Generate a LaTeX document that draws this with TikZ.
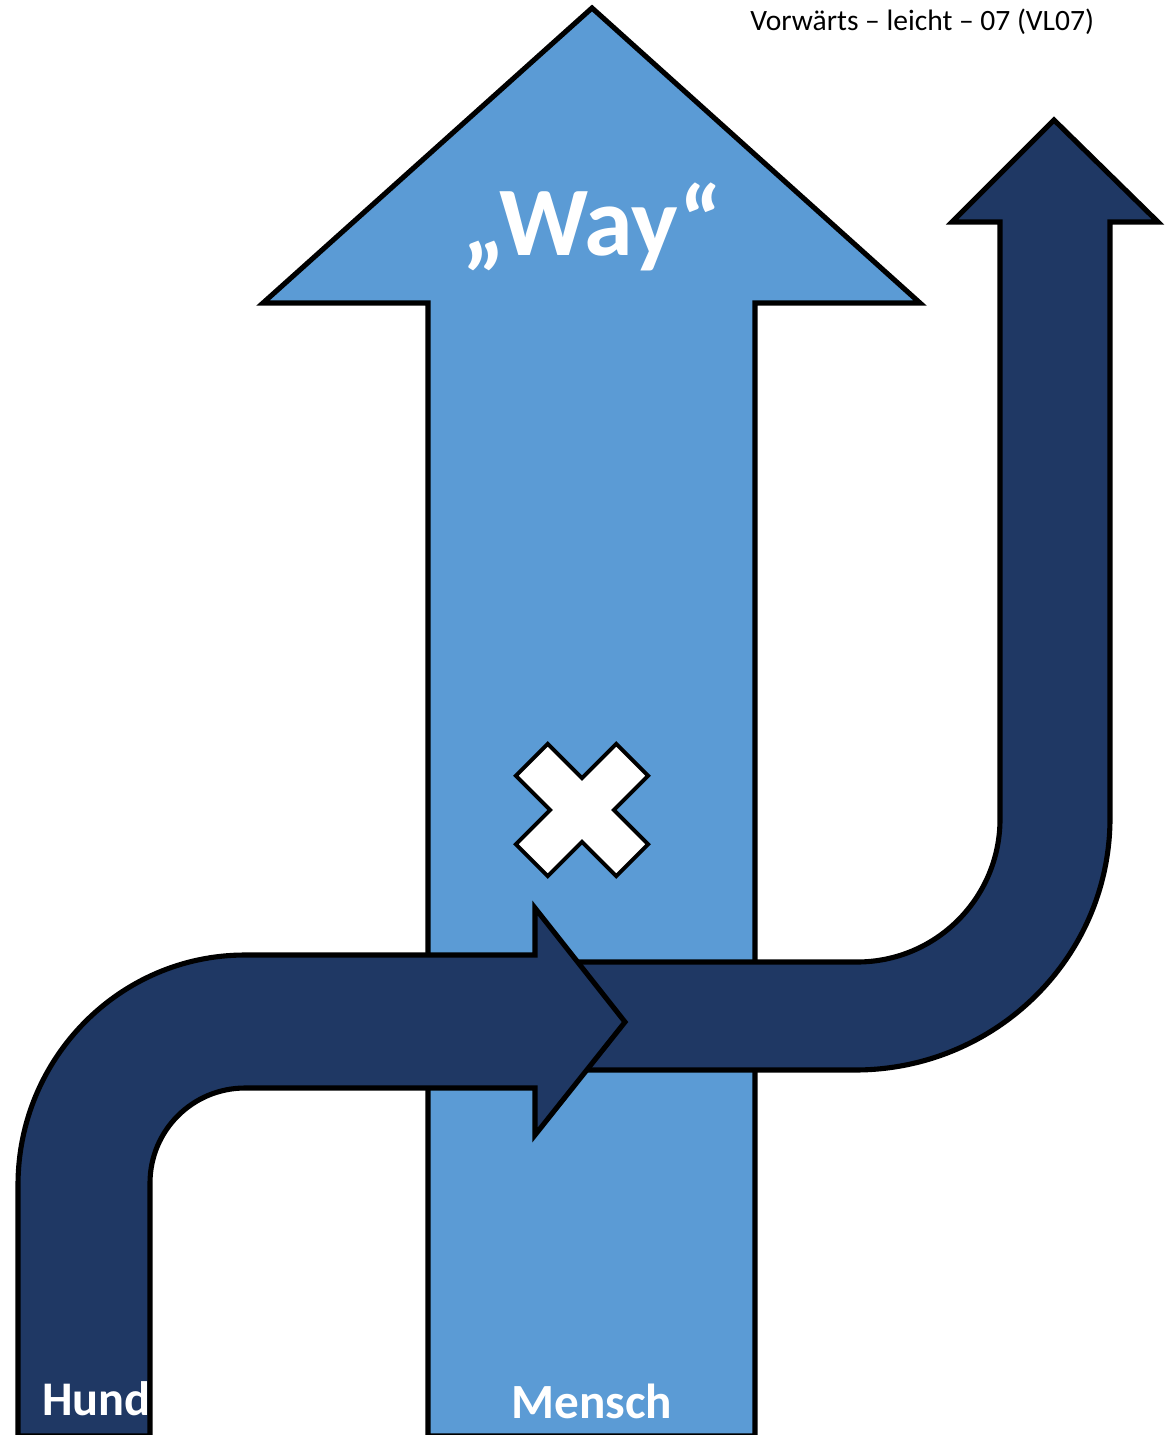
\documentclass[tikz,border=0pt]{standalone}
\usepackage{fontspec}
\setmainfont{Carlito}
\usepackage{tikz}
\usetikzlibrary{calc}
\definecolor{wayblue}{HTML}{5B9BD5}
\definecolor{dognavy}{HTML}{1F3864}
\tikzset{
	mensch arrow/.style={draw=black, line width=2.9pt, fill=wayblue, line join=miter},
	hund arrow/.style={draw=black, line width=2.9pt, fill=dognavy, line join=miter},
	label/.style={text=white, font=\bfseries, inner sep=0pt, anchor=base}
}

\begin{document}
\begin{tikzpicture}[x=0.02cm, y=-0.02cm]
			%%%%% START %%%%%
			\useasboundingbox (0, 0) rectangle (1165, 1435);
			
			% the way of the human
			\draw[mensch arrow] (428, 1436) -- (428, 303) -- (263, 303) -- (592, 8) -- (920, 303) -- (755, 303) -- (755, 1436) -- cycle;
			
			% the cross
			\begin{scope}[shift={(582, 810)}, rotate=45]
				\draw[fill=white, draw=black, line width=2.2pt] (22.5, 71) -- (22.5, 22.5) -- (71, 22.5) -- (71, -22.5) -- (22.5, -22.5) -- (22.5, -71) -- (-22.5, -71) -- (-22.5, -22.5) -- (-71, -22.5) -- (-71, 22.5) -- (-22.5, 22.5) -- (-22.5, 71) -- cycle;
			\end{scope}
			
			% the dog, second part
			\draw[hund arrow] (570, 962) -- (857, 962) .. controls (936, 962) and (1000, 898) .. (1000, 819) -- (1000, 222) -- (952, 222) -- (1054, 120) -- (1158, 222) -- (1110, 222) -- (1110, 818) .. controls (1110, 957) and (996, 1070) .. (855, 1070) -- (570, 1070) -- cycle;
			
			% the dog, first part
			\draw[hund arrow] (18, 1436) -- (18, 1185) .. controls (18, 1058) and (120, 955) .. (245, 955) -- (535, 955) -- (535, 908) -- (625, 1022) -- (535, 1135) -- (535, 1088) -- (245, 1088) .. controls (192.5, 1088) and (150, 1130.5) .. (150, 1183) -- (150, 1436) -- cycle;
			
			\node[label, font=\bfseries\fontsize{56}{62}\selectfont] (way) at (592, 256) {„Way“};
			\node[label, anchor=base west, font=\bfseries\fontsize{27.5}{32}\selectfont] (hund) at (42, 1415) {Hund};
			\node[label, font=\bfseries\fontsize{28}{32}\selectfont] (mensch) at (592, 1418) {Mensch};
			\node[anchor=base west, inner sep=0pt, font=\fontsize{16.8}{19}\selectfont] (title) at (750, 31) {Vorwärts – leicht – 07 (VL07)};
			
			%%%%% END %%%%%
\end{tikzpicture}
\end{document}
